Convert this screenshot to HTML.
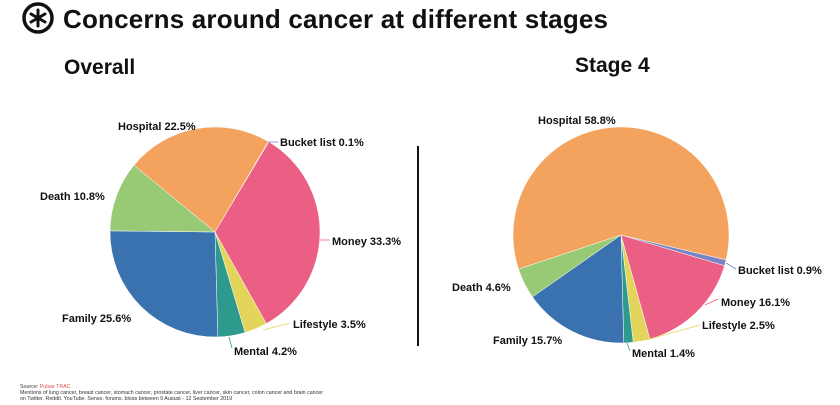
<!DOCTYPE html>
<html><head><meta charset="utf-8"><style>
body{margin:0;background:#fff;width:840px;height:400px;overflow:hidden;font-family:"Liberation Sans",sans-serif}
</style></head><body>
<svg width="840" height="400" xmlns="http://www.w3.org/2000/svg" font-family="Liberation Sans, sans-serif">
<g transform="translate(38,18)">
<circle r="14" fill="none" stroke="#111" stroke-width="3.5"/>
<g stroke="#111" stroke-width="3" stroke-linecap="round">
<line x1="0" y1="-8" x2="0" y2="8"/><line x1="-7" y1="-4" x2="7" y2="4"/><line x1="-7" y1="4" x2="7" y2="-4"/></g>
</g>
<text x="63" y="28" font-size="26" font-weight="bold" fill="#111" textLength="545">Concerns around cancer at different stages</text>
<text x="64" y="74" font-size="21" font-weight="bold" fill="#111">Overall</text>
<text x="575" y="72" font-size="21" font-weight="bold" fill="#111">Stage 4</text>
<line x1="418" y1="146" x2="418" y2="346" stroke="#111" stroke-width="2"/>
<g id="p1"></g><g id="p2"></g>
<g fill="none" stroke-width="0.8">
<path d="M268,142 L278,142" stroke="#7A84C4"/>
<path d="M320,240 L330,240" stroke="#EC5F84"/>
<path d="M263,330 L290,323" stroke="#E3D55B"/>
<path d="M229,337 L232,348" stroke="#2E9A8E"/>
<path d="M726,263 L736,269" stroke="#7A84C4"/>
<path d="M705,305 L718,299" stroke="#EC5F84"/>
<path d="M646,340 L700,325" stroke="#E3D55B"/>
<path d="M627,343 L630,351" stroke="#2E9A8E"/>
</g>
<g font-size="11" font-weight="bold" fill="#111">
<text x="118" y="130">Hospital 22.5%</text>
<text x="280" y="146">Bucket list 0.1%</text>
<text x="40" y="200">Death 10.8%</text>
<text x="332" y="245">Money 33.3%</text>
<text x="62" y="322">Family 25.6%</text>
<text x="293" y="328">Lifestyle 3.5%</text>
<text x="234" y="355">Mental 4.2%</text>
<text x="538" y="124">Hospital 58.8%</text>
<text x="738" y="274">Bucket list 0.9%</text>
<text x="452" y="291">Death 4.6%</text>
<text x="721" y="306">Money 16.1%</text>
<text x="702" y="329">Lifestyle 2.5%</text>
<text x="493" y="344">Family 15.7%</text>
<text x="632" y="357">Mental 1.4%</text>
</g>
<text x="20" y="388" font-size="5.3" fill="#333">Source: <tspan fill="#e05050">Pulsar TRAC</tspan></text>
<text x="20" y="394" font-size="5.3" fill="#333">Mentions of lung cancer, breast cancer, stomach cancer, prostate cancer, liver cancer, skin cancer, colon cancer and brain cancer</text>
<text x="20" y="400" font-size="5.3" fill="#333">on Twitter, Reddit, YouTube, Senso, forums, blogs between 9 August - 12 September 2019</text>
</svg>
<script>
function pie(id,cx,cy,r,start,data){
 var g=document.getElementById(id),a=start,s='';
 data.forEach(function(d){
  var b=a+d[0]*3.6;
  var x1=cx+r*Math.sin(a*Math.PI/180),y1=cy-r*Math.cos(a*Math.PI/180);
  var x2=cx+r*Math.sin(b*Math.PI/180),y2=cy-r*Math.cos(b*Math.PI/180);
  s+='<path d="M'+cx+','+cy+'L'+x1+','+y1+'A'+r+','+r+' 0 '+((b-a)>180?1:0)+' 1 '+x2+','+y2+'Z" fill="'+d[1]+'" stroke="#fff" stroke-width="0.5"/>';
  a=b;});
 g.innerHTML=s;
}
var C={h:'#F4A35E',b:'#7A84C4',m:'#EC5F84',l:'#E3D55B',me:'#2E9A8E',f:'#3A71AF',d:'#98C974'};
pie('p1',215,232,105,30.5,[[0.1,C.b],[33.3,C.m],[3.5,C.l],[4.2,C.me],[25.6,C.f],[10.8,C.d],[22.5,C.h]]);
pie('p2',621,235,108,103.3,[[0.9,C.b],[16.1,C.m],[2.5,C.l],[1.4,C.me],[15.7,C.f],[4.6,C.d],[58.8,C.h]]);
</script>
</body></html>
